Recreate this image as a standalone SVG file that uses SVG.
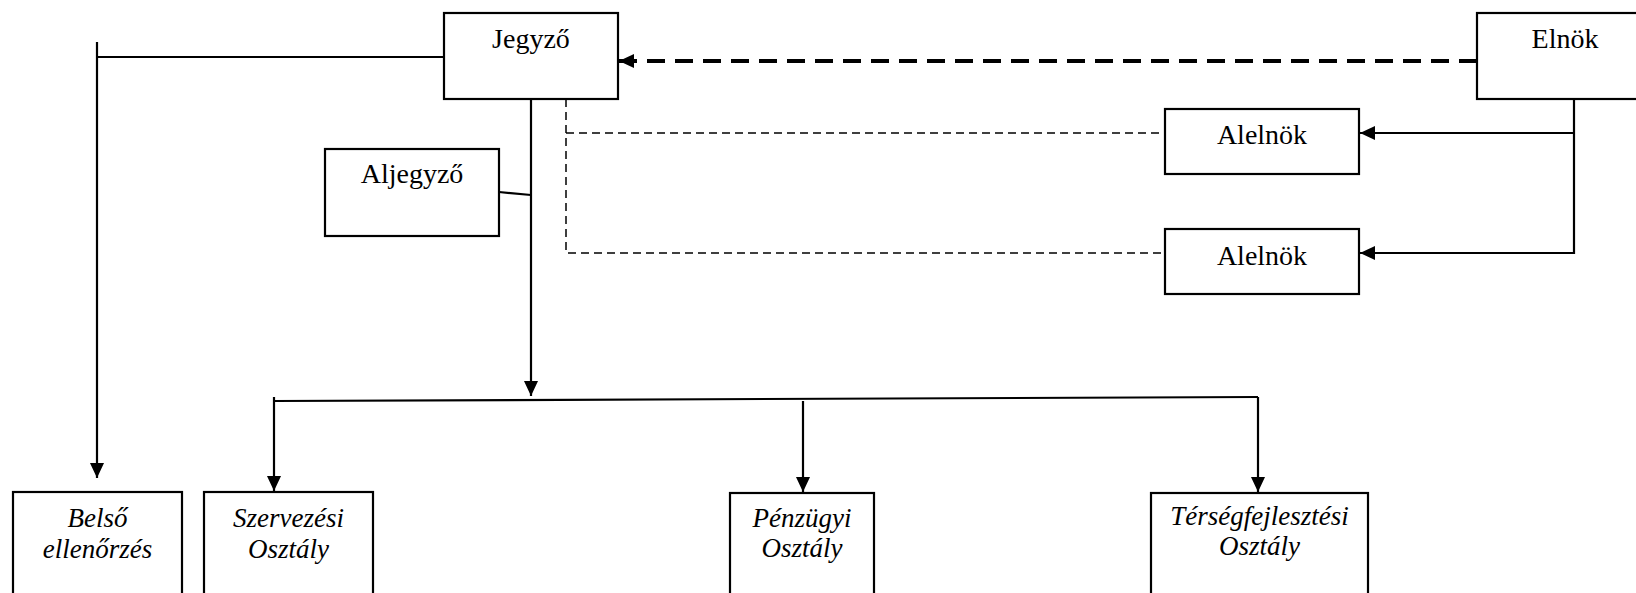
<svg xmlns="http://www.w3.org/2000/svg" width="1636" height="593" viewBox="0 0 1636 593">
<style>
.box{fill:#fff;stroke:#000;stroke-width:2.2}
.lbl{font-family:"Liberation Serif","Times New Roman",serif;font-size:28px;text-anchor:middle;fill:#000}
.it{font-family:"Liberation Serif","Times New Roman",serif;font-size:27px;font-style:italic;text-anchor:middle;fill:#000}
.ln{fill:none;stroke:#000;stroke-width:2.2}
.thickdash{fill:none;stroke:#000;stroke-width:4;stroke-dasharray:18 10}
.thindash{fill:none;stroke:#000;stroke-width:1.5;stroke-dasharray:8 5}
</style>
<defs>
<marker id="arr" markerUnits="userSpaceOnUse" markerWidth="16" markerHeight="14" refX="15" refY="7" orient="auto">
<path d="M0,0 L15,7 L0,14 z" fill="#000"/>
</marker>
</defs>
<rect width="1636" height="593" fill="#fff"/>
<g id="connectors">
<path class="ln" d="M97,42 L97,478" marker-end="url(#arr)"/>
<path class="ln" d="M97,57 L444,57"/>
<path class="ln" d="M531,99 L531,396" marker-end="url(#arr)"/>
<path class="ln" d="M499,192 L531,195"/>
<path class="ln" d="M274,401 L1258,397"/>
<path class="ln" d="M274,397 L274,491" marker-end="url(#arr)"/>
<path class="ln" d="M803,401 L803,492" marker-end="url(#arr)"/>
<path class="ln" d="M1258,397 L1258,492" marker-end="url(#arr)"/>
<path class="thickdash" d="M1477,61 L619,61" marker-end="url(#arr)"/>
<path class="thindash" d="M566,99 L566,253 L1165,253"/>
<path class="thindash" d="M566,133 L1165,133"/>
<path class="ln" d="M1574,99 L1574,253 L1360,253" marker-end="url(#arr)"/>
<path class="ln" d="M1574,133 L1360,133" marker-end="url(#arr)"/>
</g>
<g id="jegyzo">
<rect class="box" x="444" y="13" width="174" height="86"/>
<text class="lbl" x="531" y="48">Jegyző</text>
</g>
<g id="elnok">
<rect class="box" x="1477" y="13" width="170" height="86"/>
<text class="lbl" x="1565" y="48">Elnök</text>
</g>
<g id="aljegyzo">
<rect class="box" x="325" y="149" width="174" height="87"/>
<text class="lbl" x="412" y="183">Aljegyző</text>
</g>
<g id="alelnok1">
<rect class="box" x="1165" y="109" width="194" height="65"/>
<text class="lbl" x="1262" y="144">Alelnök</text>
</g>
<g id="alelnok2">
<rect class="box" x="1165" y="229" width="194" height="65"/>
<text class="lbl" x="1262" y="265">Alelnök</text>
</g>
<g id="belso">
<rect class="box" x="13" y="492" width="169" height="110"/>
<text class="it" x="97.5" y="527">Belső</text>
<text class="it" x="97.5" y="558">ellenőrzés</text>
</g>
<g id="szervezesi">
<rect class="box" x="204" y="492" width="169" height="110"/>
<text class="it" x="288.5" y="527">Szervezési</text>
<text class="it" x="288.5" y="558">Osztály</text>
</g>
<g id="penzugyi">
<rect class="box" x="730" y="493" width="144" height="110"/>
<text class="it" x="802" y="527">Pénzügyi</text>
<text class="it" x="802" y="557">Osztály</text>
</g>
<g id="tersegfejlesztesi">
<rect class="box" x="1151" y="493" width="217" height="110"/>
<text class="it" x="1259.5" y="525">Térségfejlesztési</text>
<text class="it" x="1259.5" y="555">Osztály</text>
</g>
</svg>
